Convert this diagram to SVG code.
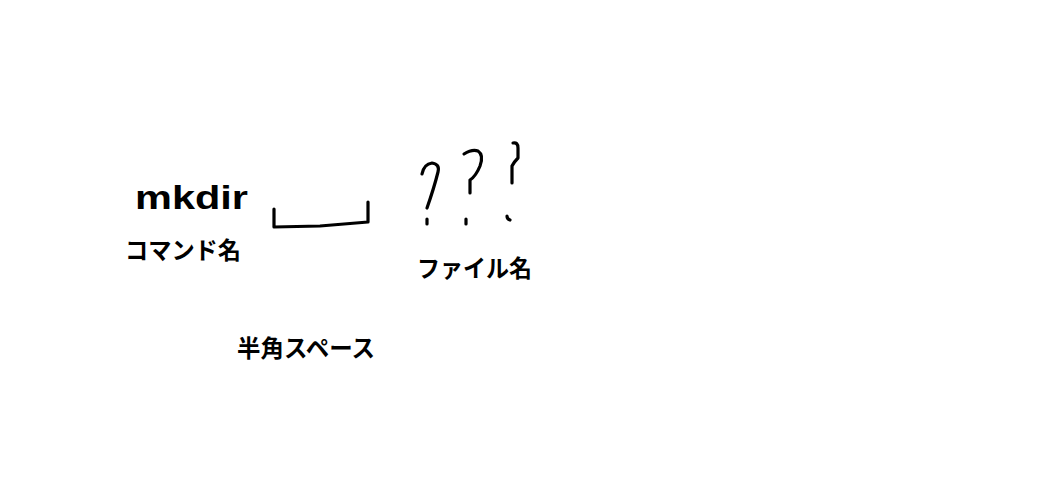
<svg xmlns="http://www.w3.org/2000/svg" width="1062" height="483" viewBox="0 0 1062 483">
<style>
.t{font-family:"Noto Sans CJK JP","Noto Sans",sans-serif;font-weight:bold;fill:#000}
.ink{fill:none;stroke:#000;stroke-width:3.2;stroke-linecap:round;stroke-linejoin:round}
</style>
<rect width="1062" height="483" fill="#fff"/>
<g id="command">
<text class="t" x="135" y="209" font-size="34" textLength="113" lengthAdjust="spacingAndGlyphs" style="font-family:'Liberation Sans',Arial,sans-serif">mkdir</text>
<text class="t" x="125" y="259" font-size="24" textLength="116" lengthAdjust="spacingAndGlyphs">コマンド名</text>
</g>
<g id="space">
<path class="ink" d="M274,209 L274,227 L320,226 L368,222 L368,202"/>
<text class="t" x="237" y="357" font-size="24" textLength="138" lengthAdjust="spacingAndGlyphs">半角スペース</text>
</g>
<g id="filename">
<path class="ink" d="M422,174 Q424,164 432,163 Q440,164 438,172 Q434,188 427,208"/>
<path class="ink" d="M427,219 L427,224"/>
<path class="ink" d="M464,154 Q472,149 478,151 Q484,155 480,166 Q476,176 470,180 L470,193"/>
<path class="ink" d="M466,219 L466,224"/>
<path class="ink" d="M513,143 Q518,142 518,148 L518,158 Q514,162 512,166 L512,183"/>
<path class="ink" d="M507,216 Q507,219 510,220"/>
<text class="t" x="417" y="277" font-size="24" textLength="115" lengthAdjust="spacingAndGlyphs">ファイル名</text>
</g>
</svg>
